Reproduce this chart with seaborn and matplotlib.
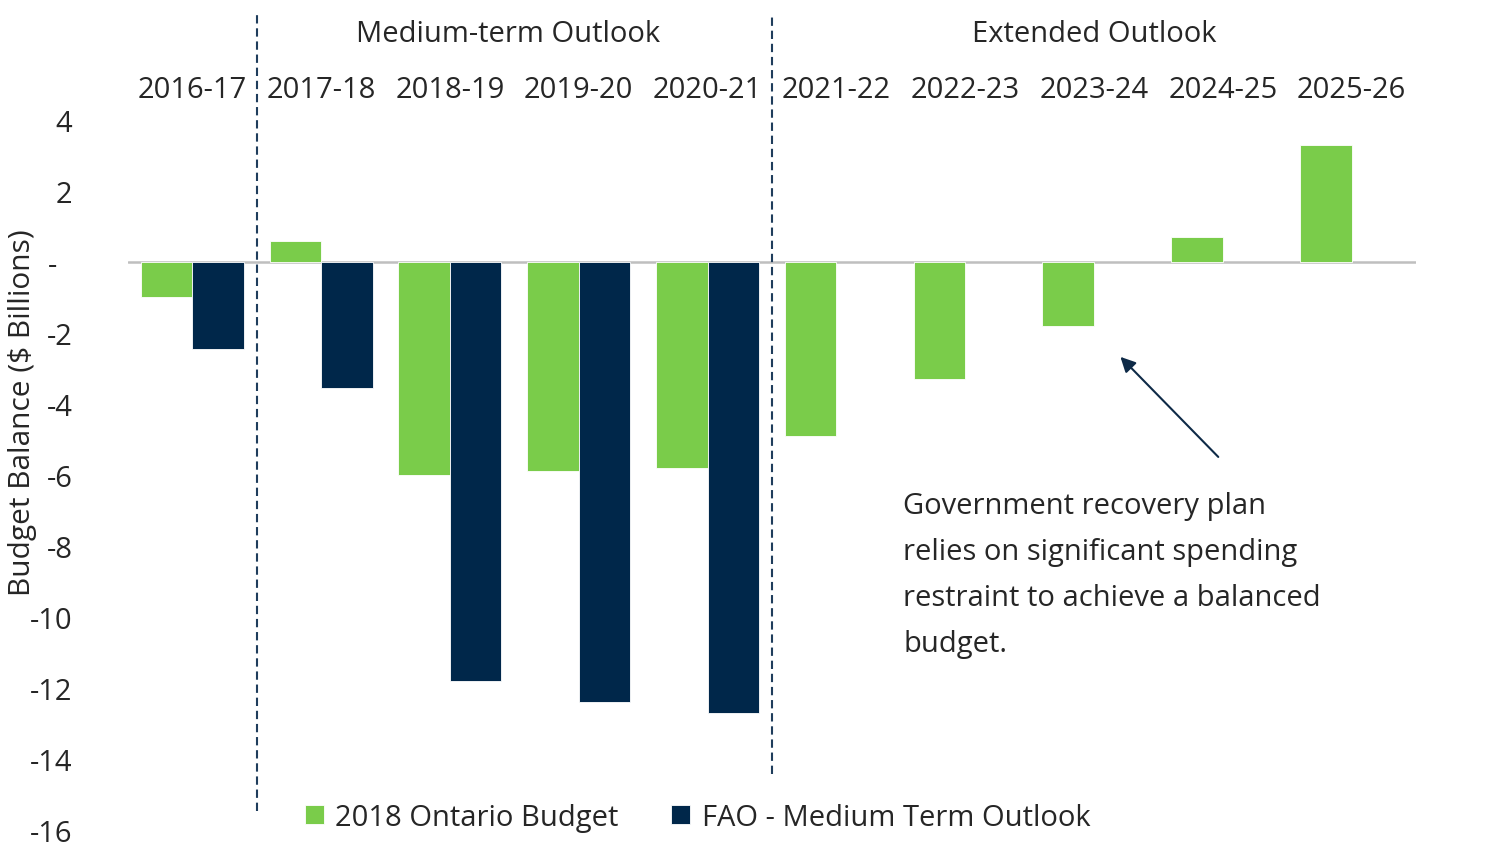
import pandas as pd
import numpy as np
import matplotlib
matplotlib.use("Agg")
import matplotlib.pyplot as plt
import seaborn as sns

# fiscal years and budget balances ($ billions)
years = ['2016-17', '2017-18', '2018-19', '2019-20', '2020-21',
         '2021-22', '2022-23', '2023-24', '2024-25', '2025-26']
ontario_budget = [-1.0, 0.6, -6.0, -5.9, -5.8, -4.9, -3.3, -1.8, 0.7, 3.3]
fao_outlook = [-2.45, -3.55, -11.8, -12.4, -12.7, np.nan, np.nan, np.nan, np.nan, np.nan]
series = ['2018 Ontario Budget', 'FAO - Medium Term Outlook']
colors = ['#7ACC4A', '#00274A']
yticks = [4, 2, 0, -2, -4, -6, -8, -10, -12, -14, -16]

df = pd.DataFrame({
    'year': years * 2,
    'value': ontario_budget + fao_outlook,
    'series': [series[0]] * len(years) + [series[1]] * len(years),
})

sns.set_style("white")
plt.rcParams['font.family'] = ['Open Sans', 'DejaVu Sans']

fig = plt.figure(figsize=(15, 8.54), dpi=100)
ax = fig.add_axes([0.0853, 0.027, 0.8587, 0.8315])

sns.barplot(data=df, x='year', y='value', hue='series', order=years,
            hue_order=series, palette=colors, saturation=1, width=0.8,
            errorbar=None, edgecolor='white', linewidth=0.6, ax=ax)

ax.set_xlim(-0.5, len(years) - 0.5)
ax.set_ylim(-16, 4)
ax.set_yticks(yticks)
ax.set_yticklabels(['-  ' if v == 0 else str(v) for v in yticks])
ax.tick_params(axis='y', length=0, pad=40, labelsize=21)
ax.xaxis.tick_top()
ax.tick_params(axis='x', length=0, pad=11.5, labelsize=21)
ax.set_xlabel('')
ax.set_ylabel('Budget Balance ($ Billions)', fontsize=21.5)
ax.yaxis.set_label_coords(-0.0705, 0.589)
for s in ax.spines.values():
    s.set_visible(False)

ax.axhline(0, color='#BFBFBF', lw=1.8, zorder=0)

# period separators
ax.axvline(0.5, ymin=0.027, ymax=1.153, color='#1F3D5C', ls=(0, (4, 2.3)),
           lw=1.5, clip_on=False)
ax.axvline(4.5, ymin=0.079, ymax=1.149, color='#1F3D5C', ls=(0, (4, 2.3)),
           lw=1.5, clip_on=False)

trans = ax.get_xaxis_transform()
ax.text(2.45, 1.121, 'Medium-term Outlook', transform=trans, ha='center',
        va='center', fontsize=21)
ax.text(7.0, 1.121, 'Extended Outlook', transform=trans, ha='center',
        va='center', fontsize=21)

ax.annotate('', xy=(7.19, -2.62), xytext=(7.98, -5.55),
            arrowprops=dict(arrowstyle='-|>,head_length=0.9,head_width=0.45',
                            color='#0E2A47', lw=1.5))
ax.text(5.52, -8.8,
        'Government recovery plan\nrelies on significant spending\n'
        'restraint to achieve a balanced\nbudget.',
        ha='left', va='center', fontsize=21, linespacing=1.78)

handles, labels = ax.get_legend_handles_labels()
ax.legend_.remove()
fig.legend(handles, labels, loc='center', bbox_to_anchor=(0.465, 0.042),
           ncol=2, frameon=False, fontsize=21, handlelength=0.65,
           handleheight=0.65, handletextpad=0.4, columnspacing=1.8)

fig.savefig('out.png', dpi=100)
